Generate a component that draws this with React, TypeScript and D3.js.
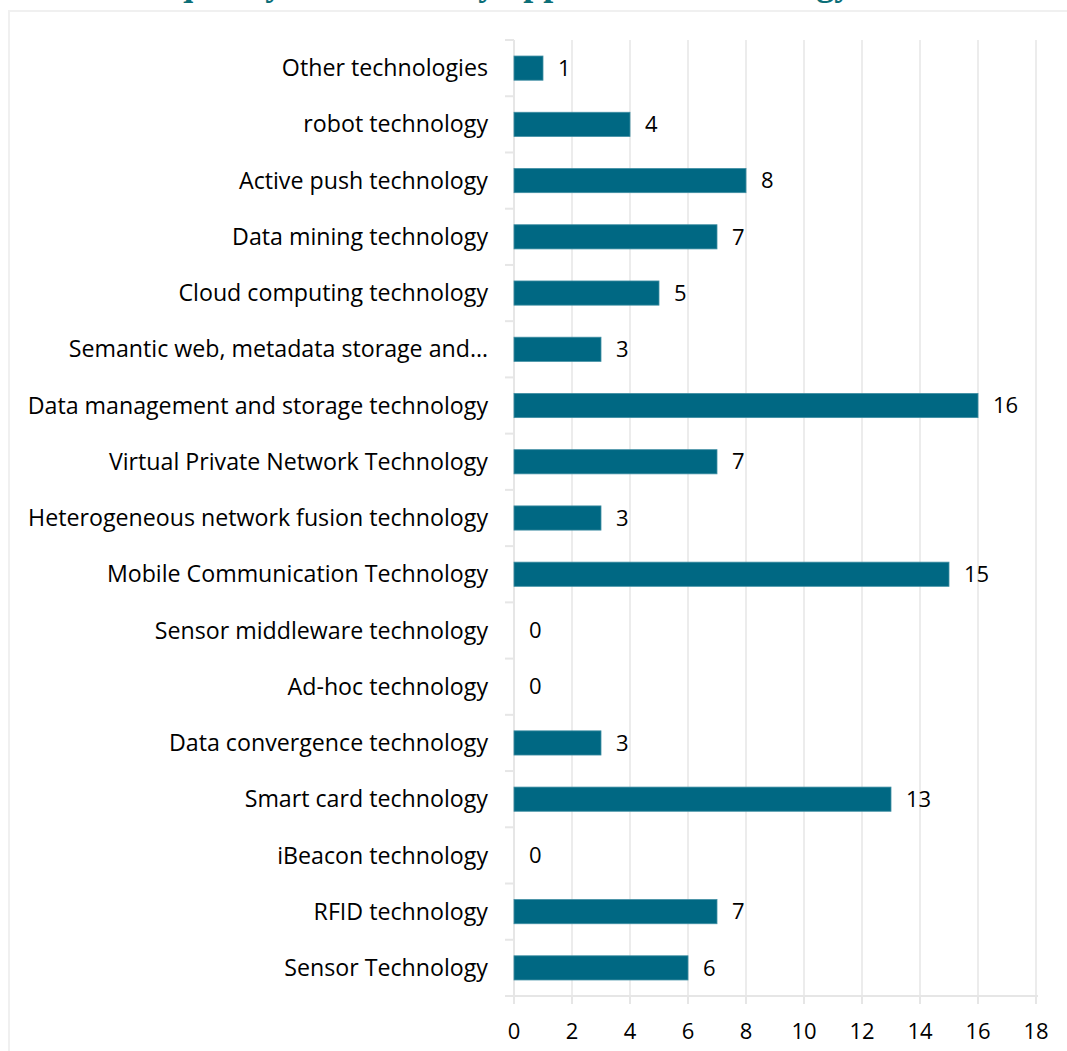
import React, { useEffect, useRef } from 'react';
import * as d3 from 'd3';

const categories = [
  'Other technologies',
  'robot technology',
  'Active push technology',
  'Data mining technology',
  'Cloud computing technology',
  'Semantic web, metadata storage and…',
  'Data management and storage technology',
  'Virtual Private Network Technology',
  'Heterogeneous network fusion technology',
  'Mobile Communication Technology',
  'Sensor middleware technology',
  'Ad-hoc technology',
  'Data convergence technology',
  'Smart card technology',
  'iBeacon technology',
  'RFID technology',
  'Sensor Technology',
];
const counts = [1, 4, 8, 7, 5, 3, 16, 7, 3, 15, 0, 0, 3, 13, 0, 7, 6];
const xTicks = [0, 2, 4, 6, 8, 10, 12, 14, 16, 18];
const title = 'Frequency of the library application technology';

const W = 1067;
const H = 1051;
const FONT = "'Open Sans', 'Noto Sans', sans-serif";

const App: React.FC = () => {
  const svgRef = useRef<SVGSVGElement>(null);

  useEffect(() => {
    if (!svgRef.current) return;
    const svg = d3.select(svgRef.current);
    svg.selectAll('*').remove();

    const left = 514;
    const right = 1036;
    const top = 40;
    const bottom = 996;

    const x = d3.scaleLinear().domain([0, 18]).range([left, right]);
    const y = d3.scaleBand<string>().domain(categories).range([top, bottom]).paddingInner(0.57).paddingOuter(0.285);

    // outer frame
    svg.append('rect')
      .attr('x', 9).attr('y', 11)
      .attr('width', W + 20).attr('height', H + 20)
      .attr('fill', 'none')
      .attr('stroke', '#f0f0f0')
      .attr('stroke-width', 2);

    // title: only its descenders reach into the page
    svg.append('text')
      .attr('x', 120)
      .attr('y', -5)
      .attr('fill', '#0c6f78')
      .attr('font-family', "'Liberation Serif', 'DejaVu Serif', serif")
      .attr('font-weight', 700)
      .attr('font-size', 36)
      .text(title);

    // gridlines
    svg.append('g')
      .selectAll('line')
      .data(xTicks.slice(1))
      .join('line')
      .attr('x1', d => x(d)).attr('x2', d => x(d))
      .attr('y1', top).attr('y2', bottom)
      .attr('stroke', '#ececec')
      .attr('stroke-width', 2);

    // left axis line + category ticks
    const axisColor = '#e6e6e6';
    svg.append('line')
      .attr('x1', left).attr('x2', left)
      .attr('y1', top).attr('y2', bottom + 8)
      .attr('stroke', axisColor).attr('stroke-width', 2);
    const step = y.step();
    const boundaries = d3.range(categories.length + 1).map(i => top + i * step);
    svg.append('g')
      .selectAll('line')
      .data(boundaries)
      .join('line')
      .attr('x1', left - 9).attr('x2', left)
      .attr('y1', d => d).attr('y2', d => d)
      .attr('stroke', axisColor).attr('stroke-width', 2);

    // bottom axis line + ticks
    svg.append('line')
      .attr('x1', left - 9).attr('x2', right + 2)
      .attr('y1', bottom).attr('y2', bottom)
      .attr('stroke', axisColor).attr('stroke-width', 2);
    svg.append('g')
      .selectAll('line')
      .data(xTicks)
      .join('line')
      .attr('x1', d => x(d)).attr('x2', d => x(d))
      .attr('y1', bottom).attr('y2', bottom + 8)
      .attr('stroke', axisColor).attr('stroke-width', 2);

    svg.append('g')
      .selectAll('text')
      .data(xTicks)
      .join('text')
      .attr('x', d => x(d))
      .attr('y', 1039)
      .attr('text-anchor', 'middle')
      .attr('font-family', FONT)
      .attr('font-size', 22)
      .attr('fill', '#000')
      .text(d => d);

    // category labels
    svg.append('g')
      .selectAll('text')
      .data(categories)
      .join('text')
      .attr('x', 488)
      .attr('y', d => (y(d) ?? 0) + y.bandwidth() / 2)
      .attr('dy', '0.35em')
      .attr('text-anchor', 'end')
      .attr('font-family', FONT)
      .attr('font-size', 23.2)
      .attr('fill', '#000')
      .text(d => d);

    // bars
    svg.append('g')
      .selectAll('rect')
      .data(counts)
      .join('rect')
      .attr('x', x(0))
      .attr('y', (_, i) => y(categories[i]) ?? 0)
      .attr('width', d => x(d) - x(0))
      .attr('height', y.bandwidth())
      .attr('fill', '#006883')
      .attr('stroke', d => (d > 0 ? '#3f8ea3' : 'none'))
      .attr('stroke-width', 0.8);

    // value labels
    svg.append('g')
      .selectAll('text')
      .data(counts)
      .join('text')
      .attr('x', d => x(d) + 15)
      .attr('y', (_, i) => (y(categories[i]) ?? 0) + y.bandwidth() / 2)
      .attr('dy', '0.35em')
      .attr('font-family', FONT)
      .attr('font-size', 22)
      .attr('fill', '#000')
      .text(d => d);
  }, []);

  return (
    <svg
      ref={svgRef}
      width={W}
      height={H}
      style={{ position: 'absolute', left: 0, top: 0, background: '#fff' }}
    />
  );
};

export default App;
